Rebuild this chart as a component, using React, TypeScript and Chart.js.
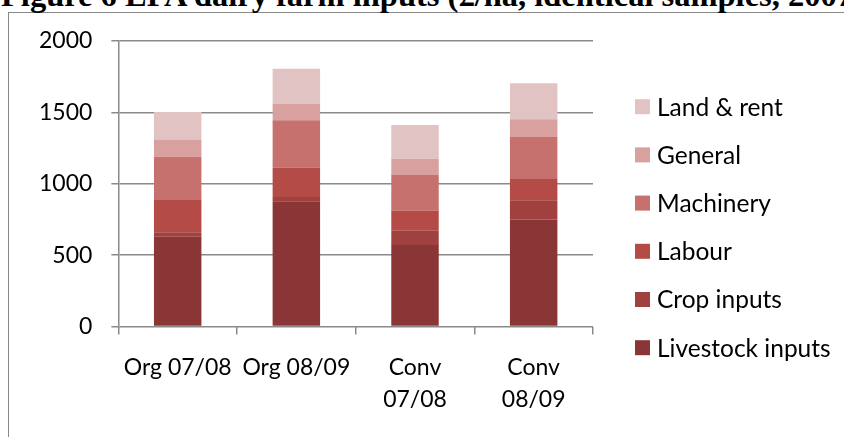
import React, { useEffect, useRef } from "react";
import { Chart, registerables } from "chart.js";

Chart.register(...registerables);

const categories: (string | string[])[] = ["Org 07/08", "Org 08/09", ["Conv", "07/08"], ["Conv", "08/09"]];
const seriesNames = ["Livestock inputs", "Crop inputs", "Labour", "Machinery", "General", "Land & rent"];
const livestockInputs = [630, 877, 571, 750];
const cropInputs = [30, 30, 101, 134];
const labour = [226, 207, 141, 155];
const machinery = [303, 331, 249, 289];
const general = [122, 113, 113, 124];
const landRent = [191, 247, 237, 252];
const seriesColors = ["#8B3636", "#A0403F", "#B54B47", "#C7716F", "#D8A09F", "#E2C3C4"];
const yMin = 0;
const yMax = 2000;
const yStep = 500;

const titleText = "Figure 6 EPA dairy farm inputs (£/ha, identical samples, 2007/08 – 2008/09)";

// legend styling (drawn from the chart's own datasets)
const LEGEND_BOX_X = 635;
const LEGEND_FIRST_Y = 106.7;
const LEGEND_ROW_GAP = 48.2;
const LEGEND_BOX = 15;
const LEGEND_TEXT_GAP = 7;

const sideLegend = {
  id: "sideLegend",
  afterDraw(chart: any) {
    const ctx = chart.ctx as CanvasRenderingContext2D;
    const ds = chart.data.datasets;
    const n = ds.length;
    ctx.save();
    ctx.font = '24.5px Lato';
    ctx.textBaseline = "middle";
    ctx.textAlign = "left";
    for (let k = 0; k < n; k++) {
      const d = ds[n - 1 - k];
      const cy = LEGEND_FIRST_Y + k * LEGEND_ROW_GAP;
      ctx.fillStyle = d.backgroundColor as string;
      ctx.fillRect(LEGEND_BOX_X, cy - LEGEND_BOX / 2, LEGEND_BOX, LEGEND_BOX);
      ctx.fillStyle = "#000";
      ctx.fillText(d.label, LEGEND_BOX_X + LEGEND_BOX + LEGEND_TEXT_GAP, cy + 1);
    }
    ctx.restore();
  },
};

export default function App() {
  const ref = useRef<HTMLCanvasElement | null>(null);

  useEffect(() => {
    document.body.style.margin = "0";
    if (!ref.current) return;
    const values = [livestockInputs, cropInputs, labour, machinery, general, landRent];
    const chart = new Chart(ref.current, {
      type: "bar",
      data: {
        labels: categories,
        datasets: values.map((v, i) => ({
          label: seriesNames[i],
          data: v,
          backgroundColor: seriesColors[i],
          borderWidth: 0,
          categoryPercentage: 1,
          barPercentage: 0.4,
        })),
      },
      plugins: [sideLegend],
      options: {
        animation: false,
        responsive: false,
        devicePixelRatio: 1,
        layout: { padding: { left: 20, top: 41, bottom: 4, right: 251 } },
        plugins: {
          tooltip: { enabled: false },
          title: { display: false },
          legend: { display: false },
        },
        scales: {
          x: {
            stacked: true,
            grid: {
              display: true,
              drawOnChartArea: false,
              drawTicks: true,
              tickLength: 8,
              color: "#8a8a8a",
              lineWidth: 1.5,
            },
            border: { display: false },
            ticks: {
              color: "#000",
              padding: 17,
              autoSkip: false,
              maxRotation: 0,
              font: { family: "Lato", size: 23, lineHeight: 1.4 },
            },
          },
          y: {
            stacked: true,
            min: yMin,
            max: yMax,
            grid: { color: "#8a8a8a", lineWidth: 1.5, tickLength: 7 },
            border: { display: true, color: "#8a8a8a", width: 1.5 },
            ticks: {
              stepSize: yStep,
              color: "#000",
              padding: 19,
              font: { family: "Lato", size: 23 },
              callback: (v: any) => String(v),
            },
          },
        },
      },
    });
    return () => chart.destroy();
  }, []);

  return (
    <div style={{ position: "fixed", left: 0, top: 0, width: 844, height: 437, overflow: "hidden", background: "#fff" }}>
      <div
        style={{
          position: "absolute",
          left: 8,
          top: 12,
          width: 1000,
          height: 600,
          border: "1px solid #888",
          boxSizing: "border-box",
        }}
      />
      <div
        style={{
          position: "absolute",
          left: 1,
          top: -21,
          lineHeight: "32px",
          fontFamily: '"Liberation Serif", "Times New Roman", serif',
          fontWeight: "bold",
          fontSize: 32.5,
          whiteSpace: "nowrap",
          color: "#000",
        }}
      >
        {titleText}
      </div>
      <canvas ref={ref} width={844} height={437} style={{ position: "absolute", left: 0, top: 0, width: 844, height: 437 }} />
    </div>
  );
}
